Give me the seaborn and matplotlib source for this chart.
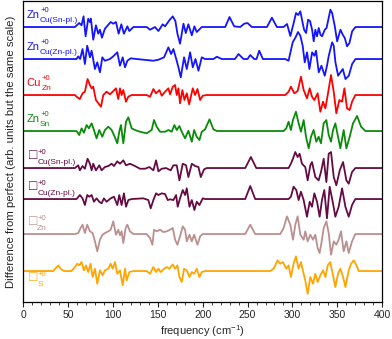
import pandas as pd
import seaborn as sns
import matplotlib.pyplot as plt
from matplotlib.ticker import MultipleLocator

# spectra: frequency (cm-1) and deviation (arb. units)
zn_cusn_f = [0, 57.7, 62.5, 65.1, 67.3, 69.6, 72.5, 74.4, 75.5, 78.1, 81.1, 83.7, 85.6, 87.8, 91.1, 97.5, 100.4,
             103.4, 106.4, 109.4, 112.3, 116.1, 118.3, 122.8, 137.6, 141.4, 146.9, 150.7, 155.5, 158.1, 162.9,
             166.7, 169.6, 171.9, 174.8, 178.6, 181.2, 184.1, 187.9, 190.8, 193.4, 199, 225.1, 229.9, 235.1,
             241.8, 246.3, 250, 254.8, 271.6, 277.1, 282.7, 290, 294, 297.7, 301.4, 304, 306.5, 308.8, 311.4,
             313, 315.2, 317.4, 319.6, 321.9, 323.7, 325.5, 327.4, 329.3, 331.2, 333, 336, 338, 342.3, 344.2,
             347.2, 349.8, 353.5, 356.1, 358.3, 360.9, 363.5, 366.5, 370.2, 400]
zn_cusn_d = [0, 0, 4, 1.7, 10.7, -9.3, 8.3, 5, 8.3, -12.7, 1.7, -6.7, -2.7, -10.7, -1.7, 5, 3.3,
             5, -6.7, 2.7, -6.7, 0.7, -4, 0, 0, -2.7, 0, -4, 2.7, 0.7, 6.7,
             10.7, 6, -6.7, -16.7, 3.3, -6, 2.7, -8.3, 0.7, -5, 0, 0, 10, 0.7,
             0, 3.3, 4, 0, 0, 9.3, 0, 0, 3, -9, 4, 14, 12, 15.7, 4,
             -2.7, -6, 7.3, 6, -2.7, -14.3, -2.7, -9.3, -1, -7.7, -9.3, -2.7, -1, 17.3, 14,
             0.7, -14.3, -2.7, -7.7, -11, -19.3, -16, -4.3, 0, 0]

zn_cuzn_f = [0, 59.5, 61.4, 63.5, 66.2, 68.8, 71.4, 74.4, 76.3, 80, 82.6, 85.6, 88.2, 91.1, 96.7, 100.4, 104.9,
             107.9, 110.9, 113.5, 116.1, 119.8, 126.5, 145.1, 150.7, 157, 161.8, 164.8, 167.4, 171.1, 173,
             175.6, 179.3, 182.3, 186, 189, 192, 195.3, 199, 202.7, 212, 215.8, 221.3, 236, 239.9, 245.5,
             250, 253, 257.4, 260, 263, 267.1, 292, 295.7, 300.3, 303.5, 306.2, 308.8, 311.4, 313.7, 316.3,
             318.9, 321.9, 324.5, 326.3, 329.3, 332.3, 336, 338.5, 340.5, 344.2, 346, 347.9, 350.9, 353.5,
             356.1, 359.1, 362.8, 366.5, 370.2, 400]
zn_cuzn_d = [0, 0, 2.7, 0, 10, -5, 13.3, 1.7, 8.3, -10, -3.3, -13.3, 1.7, -1.7, 0, 2.7, 6.7,
             -6.7, 1.7, -8.3, -1.7, 0.7, 0, -1.7, -0.7, 1.7, 11.7, 5, 10, -1.7, -8.3,
             -18.3, 1.7, -10, 6.7, -8.3, 0, -11.7, 1.7, 0, 0, 2.3, 0, 0, 5, 0,
             0, 4, 0, 0, 8.3, 0, 0, -1.7, 16.7, 21.7, 27, 23.3, 13.3, -3.3, 6.7,
             -10, 6.7, 3.3, 8.3, -13.3, -6.7, -16.7, -6.7, 3.3, 16.7, 13.3, -3.3, -16.7, -13.3,
             -10, -20, -16.7, -5, 0, 0]

cu_zn_f = [0, 57.7, 59.5, 63.2, 66.2, 68.8, 71.8, 74.4, 76.3, 78.1, 81.1, 86.7, 89.3, 93, 96.7, 99.7, 103.4,
           106, 107.9, 109.7, 111.6, 114.6, 117.2, 120.9, 137.6, 141.4, 145.1, 148.1, 151.8, 154.4, 158.1,
           161.8, 163.7, 166.7, 169.3, 171.1, 173, 174.8, 177.4, 179.7, 182.3, 184.9, 189, 191.6, 194.2,
           197.2, 200.1, 204.6, 292, 295.7, 298.3, 302.1, 305.8, 309.5, 312.5, 316.2, 319.2, 321.8, 324.4,
           328.1, 331.1, 334.1, 336.7, 339.3, 343, 346, 348.9, 352.3, 355.3, 357.9, 360.8, 363.8, 366.4,
           370.1, 400]
cu_zn_d = [0, 0, -1.7, -4, 1.7, 3.3, 16, 10, 6.7, 8.3, -5, -11.7, 0, 3.3, 0.7, 3.3, 6.7,
           -4, 6.7, 0, 5, -6.7, -1.7, 0, 0, -1.7, 6, 1.7, 5, -0.7, 3.3,
           6.7, 0.7, 8.3, 10, 0, 6.7, -8.3, 5, -5, 1.7, -9.3, 6.7, 0, 6,
           -5, -0.7, 0, 0, 3.3, 8.3, 1.7, 4, 18.3, 5, -3.3, 6.7, -1.7, -5,
           1.7, -16.7, -6.7, -13.3, 0, 20, 3.3, -18.3, -5, -6.7, 6.7, -13.3, -15, -6.7,
           0, 0]

zn_sn_f = [0, 59.5, 62.5, 65.1, 67.7, 70.7, 73.3, 76.3, 78.9, 81.8, 84.8, 88.2, 91.1, 94.9, 98.6, 101.2, 104.9,
           107.1, 109, 111.6, 114.6, 117.2, 120.9, 124.6, 130.2, 137.6, 143.2, 145.8, 148.8, 152.5, 158.1,
           161.8, 165.5, 168.5, 171.1, 174.1, 176.7, 180.4, 184.1, 187.9, 190.5, 193.4, 196.4, 199, 202.7,
           207.6, 212, 215.8, 290.2, 293.1, 295.7, 298.3, 300.6, 303.9, 306.9, 309.5, 312.5, 315.1, 318.1,
           320.7, 323.6, 326.6, 329.2, 331.8, 334.8, 337.8, 340.4, 343, 345.2, 347.8, 350.8, 353.4, 357.1,
           360.1, 363.8, 367.5, 372, 376.5, 381.3, 400]
zn_sn_d = [0, 0, -4, 2.7, -1.7, 6, 2.7, 7.7, 1, -7.3, 1, -5.7, 1, 4.3, 1, -4, -12.3,
           -0.7, 6, -12.3, 9.3, 13.7, 2.7, 1, -0.7, -2.3, 1, 11, 4.3, -0.7, -0.7,
           1, -0.7, 6, 1, 5, -0.7, -7.3, 0.3, -10.7, 1, -5.7, -9, -0.7, 1.7,
           11.7, 1.7, 0, 0, 2.7, 9.3, 1, 11, 19.3, 7.7, -0.7, 11, -5.7, -17.3,
           -5.7, 1, -10.7, -5.7, -12.3, 7.7, 11, -4, -10.7, 1, 7.7, -5.7, -17.3, 1,
           -17.3, -5.7, 7.7, 15, 4.3, 0, 0]

v_cusn_f = [0, 57.7, 61.4, 63.2, 66.2, 68.8, 71.8, 74.4, 76.3, 78.1, 81.1, 84.8, 87.4, 91.1, 94.9, 98.6, 101.2,
            104.9, 107.9, 111.6, 114.6, 119, 124.6, 130.2, 135.8, 140.6, 145.1, 148.1, 150.7, 154.4, 159.2,
            164.4, 167.4, 171.1, 174.1, 177.8, 181.5, 184.1, 187.9, 191.6, 195.3, 197.9, 201.6, 204.6, 247.4,
            253.7, 259.7, 295.7, 298.3, 300.6, 303.2, 305.8, 308, 310.6, 314.3, 317, 319.9, 321.8, 325.5,
            329.2, 331.8, 334.8, 337.8, 340.4, 343, 346, 348.9, 352.7, 356.4, 360.1, 362.7, 366.4, 370.1, 400]
v_cusn_d = [0, 0, 2.7, -2.3, 2, -0.7, 9.3, 4.3, -2.3, 4.3, -2.3, 2.7, -2.3, 1, 2, 4.3, 2,
            6.7, 4.3, 7.7, 2.7, 4.3, 2, -0.7, -0.7, 1, -2.3, 7.7, -3.3, -0.7, 0,
            -2.3, 2.7, 2.7, -12.3, 4.3, 2.7, -9, 4.3, 2, 1, -9, -1.3, 0, 0,
            11, 0, 0, 4.3, 9.3, 16, 11, 14.3, 4.3, 1, -12.3, 2.7, 6, -9,
            -12.3, -4, 9.3, -14, 14.3, 16, -9, -17.3, -2.3, 6, -12.3, -15.7, -4, 0, 0]

v_cuzn_f = [0, 59.5, 63.2, 66.2, 68.8, 71.4, 73.7, 76.3, 78.9, 81.8, 84.8, 87.4, 90, 93, 97.5, 101.2, 104.9,
            107.1, 109.7, 112.3, 114.6, 117.2, 120.9, 133.9, 139.5, 142.1, 145.1, 148.1, 150.7, 154.4, 158.1,
            161.1, 163.7, 167.4, 170.4, 172.2, 174.8, 177.8, 180.4, 182.3, 185.3, 187.9, 190.8, 193.4, 196.4,
            200.1, 202.7, 247.4, 253, 258.5, 295.7, 298.3, 301.3, 304.3, 306.9, 309.5, 312.5, 316.2, 319.2,
            321.8, 324.4, 327.4, 330.3, 332.9, 335.5, 338.5, 341.5, 345.2, 347.8, 351.5, 355.3, 359, 362.7,
            366.4, 370.1, 400]
v_cuzn_d = [0, 0, 4, 0.7, -6, 4, 2.3, 4, -2.7, 0.7, -2.7, -4.3, 0.7, -2.7, 0.7, 2.3, -6,
            4, -6, 5.7, -7.7, -1, 0, 0.7, -1, -9.3, -1, 5.7, 4, 5.7, 5,
            -1, -0.3, -1, 4, -7.7, 0.7, 9, 4, 10.7, -7.7, -1, -11, -2.7, -6,
            0.7, 0, 0, 13, 0, 0, 2.3, 12.3, 9, -1, 7.3, -1, -17.7, -2.7,
            -7.7, 5.7, -2.7, -17.7, -1, 9, -19.3, 12.3, -4.3, -17.7, -7.7, 10.7, -7.7, -17.7,
            -6, 0, 0]

v_zn_f = [0, 57.7, 61.4, 64, 66.2, 68.8, 71.4, 74.4, 77.4, 80, 82.6, 85.6, 88.5, 91.1, 94.9, 97.5, 100.4,
          103.4, 106, 107.9, 109.7, 111.6, 114.2, 116.1, 119, 122.8, 137.6, 141.4, 144, 145.8, 148.8,
          152.5, 156.2, 160, 163.7, 166.7, 169.3, 171.9, 174.8, 177.8, 180.4, 182.3, 185.3, 187.9, 190.5,
          194.2, 197.2, 200.1, 247.4, 253, 258.5, 286.4, 290.2, 293.9, 297.6, 300.6, 303.2, 305.8, 308.8,
          312.5, 314.3, 317, 319.9, 322.9, 325.5, 328.1, 330.3, 332.9, 334.8, 337.8, 340.4, 343, 346,
          348.9, 351.5, 354.1, 357.1, 360.1, 362.7, 366.4, 370.1, 400]
v_zn_d = [0, 0, 1, 6, 9.3, 1, 9.3, 2.7, 1, -7.3, -17.3, -5.7, -0.7, 1, 2.7, 4.3, 12.7,
          -0.7, 4.3, -1.3, 2.7, -9, 6, 9.3, 2.7, 0, 0, -4, -10.7, 4.3, 2.7,
          4.3, 2, 2.7, 4.3, 6, -5.7, -10.7, -2.3, 7.7, 4.3, -7.3, -0.7, -7.3, -0.7,
          -10.7, -2.3, 0, 0, 9.3, 0, 0, 6, 17.7, 9.3, -5.7, 9.3, 17.7, -0.7,
          -5.7, 2.7, -7.3, -0.7, -5.7, -0.7, -14, -19, -5.7, 6, 12.7, 1, -20.7, -7.3,
          -10.7, -5.7, 2.7, -17.3, -7.3, -19, -7.3, 0, 0]

v_s_f = [0, 33.5, 39.1, 42.8, 46.5, 53.9, 57.7, 60.3, 62.5, 65.1, 67.7, 69.9, 72.5, 75.1, 77.4, 80, 82.6,
         85.6, 88.5, 91.1, 94.9, 97.5, 99.7, 102.3, 104.9, 107.9, 110.9, 113.5, 115.3, 118.3, 122.8, 137.6,
         141.4, 145.1, 148.1, 150.7, 153.3, 157, 160, 162.9, 166.7, 169.3, 171.9, 174.1, 176.7, 179.3,
         182.3, 185.3, 187.9, 190.5, 193.4, 196.4, 199, 202.7, 275.3, 279, 283.5, 286.4, 289.4, 293.1,
         295.7, 298.3, 301.3, 303.9, 306.9, 309.5, 312.5, 314.3, 317, 319.9, 322.9, 325.5, 328.1, 331.1,
         334.1, 336.7, 339.3, 342.2, 345.2, 347.8, 350.8, 353.4, 356.4, 359, 362.7, 365.3, 368.3, 371.3,
         373.9, 400]
v_s_d = [0, 0, 5.7, 1.3, 0, 0, 4, 7.3, 5.7, 9, 0.7, 5.7, -1, 7.3, -6, 2.3, -12.7,
         0.7, -4.3, 0.7, 2.3, 7.3, 2.3, 9, -2.7, 0.7, -14.3, 2.3, -9.3, -1, 0, 0,
         -2.7, 4, -1, 2.3, -1, 2.3, 4, 2.3, 6.7, 2.3, 5.7, -6, -11, 2.3,
         0.7, -6, -1, -2.7, 2.3, -6, -1, 0, 0, 2.3, 10.7, 7.3, 9, 2.3,
         5.7, -6, 7.3, 14.7, 2.3, 9, -2.7, -9.3, -22.7, -6, -12.7, -2.7, -11, -4.3,
         0.7, -6, 5.7, 9, -4.3, -16, -2.7, 2.3, -6, -16, 0.7, 7.3, 10.7, 5.7,
         0, 0]

defects = ['Zn_Cu(Sn-pl.)', 'Zn_Cu(Zn-pl.)', 'Cu_Zn', 'Zn_Sn',
           'V_Cu(Sn-pl.)', 'V_Cu(Zn-pl.)', 'V_Zn', 'V_S']
freqs = [zn_cusn_f, zn_cuzn_f, cu_zn_f, zn_sn_f, v_cusn_f, v_cuzn_f, v_zn_f, v_s_f]
devs = [zn_cusn_d, zn_cuzn_d, cu_zn_d, zn_sn_d, v_cusn_d, v_cuzn_d, v_zn_d, v_s_d]
offsets = [275, 243, 207, 171, 134, 103, 68, 31]
label_main = ['Zn', 'Zn', 'Cu', 'Zn', '\u25a1', '\u25a1', '\u25a1', '\u25a1']
label_sub = ['Cu(Sn-pl.)', 'Cu(Zn-pl.)', 'Zn', 'Sn', 'Cu(Sn-pl.)', 'Cu(Zn-pl.)', 'Zn', 'S']
colors = ['#1414ff', '#1414ff', '#ff0000', '#0a8c0a', '#660a44', '#660a44', '#bc8f8f', '#ffa500']

rows = []
for name, fs, ds, off in zip(defects, freqs, devs, offsets):
    for f, d in zip(fs, ds):
        rows.append((name, f, off + d))
df = pd.DataFrame(rows, columns=['defect', 'freq', 'signal'])

sns.set_style('ticks')
plt.rcParams['font.family'] = ['Liberation Sans', 'DejaVu Sans']
plt.rcParams['mathtext.fontset'] = 'custom'
plt.rcParams['mathtext.rm'] = 'Liberation Sans'
plt.rcParams['mathtext.it'] = 'Liberation Sans:italic'

fig, ax = plt.subplots(figsize=(3.92, 3.39), dpi=100)
fig.subplots_adjust(left=0.059, right=0.975, bottom=0.109, top=0.997)

sns.lineplot(data=df, x='freq', y='signal', hue='defect', hue_order=defects, palette=colors,
             estimator=None, sort=False, legend=False, linewidth=1.3, ax=ax)

for i, name in enumerate(defects):
    if name == 'V_S':
        y = offsets[i] - 10
    else:
        y = offsets[i] + 9
    is_box = label_main[i] == '\u25a1'
    x = 6 if is_box else 4
    t = ax.text(x, y, label_main[i], color=colors[i], fontsize=10 if is_box else 8, va='baseline',
                ha='left', family=['Liberation Sans', 'DejaVu Sans'])
    ax.annotate('+0', xy=(1, 0), xycoords=t, xytext=(0.6, 5.6), textcoords='offset points',
                fontsize=5.5, color=colors[i], va='baseline', ha='left')
    ax.annotate(label_sub[i], xy=(1, 0), xycoords=t, xytext=(0.2, -1.2), textcoords='offset points',
                fontsize=6, color=colors[i], va='baseline', ha='left')

ax.set_xlim(0, 400)
ax.set_ylim(0, 301)
ax.set_yticks([])
ax.xaxis.set_major_locator(MultipleLocator(50))
ax.xaxis.set_minor_locator(MultipleLocator(10))
ax.tick_params(axis='x', which='major', direction='out', length=3.5, width=0.8, labelsize=7.5, pad=2.5)
ax.tick_params(axis='x', which='minor', direction='out', length=2, width=0.6)
for s in ax.spines.values():
    s.set_visible(True)
    s.set_linewidth(0.9)
    s.set_color('black')
ax.set_xlabel('frequency (cm$^{-1}$)', fontsize=8, labelpad=2)
ax.set_ylabel('Difference from perfect (arb. units but the same scale)', fontsize=8.2, labelpad=5)

fig.savefig('out.png', dpi=100)
